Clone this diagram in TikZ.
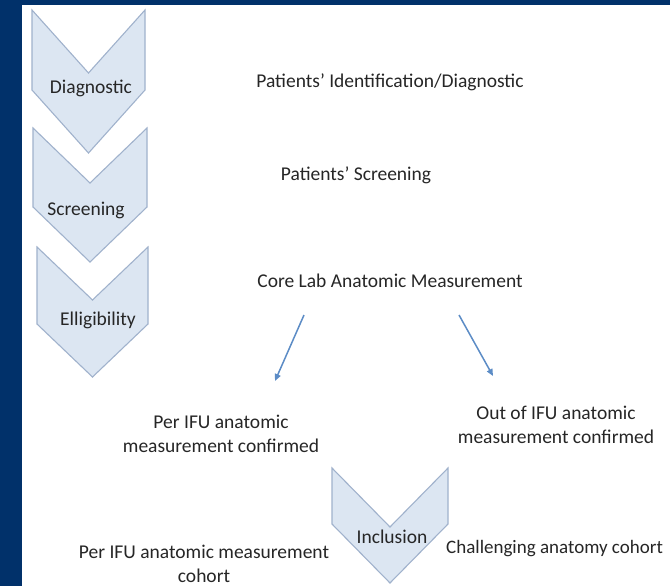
\documentclass[tikz,border=0pt]{standalone}
\usepackage{fontspec}
\setmainfont{Carlito}
\usetikzlibrary{arrows.meta}
\definecolor{bgblue}{RGB}{1,49,106}
\definecolor{chevfill}{RGB}{220,230,242}
\definecolor{chevdraw}{RGB}{160,178,204}
\definecolor{arrowblue}{RGB}{92,140,198}
\definecolor{txt}{RGB}{38,38,38}
\newcommand\mychev[5]{%
  \draw[chev] (#1,#3) -- ({(#1+#2)/2},#4) -- (#2,#3) -- (#2,{#3+#5-#4})
    -- ({(#1+#2)/2},#5) -- (#1,{#3+#5-#4}) -- cycle;}
\begin{document}
\begin{tikzpicture}[x=1pt,y=-1pt,
  chev/.style={fill=chevfill,draw=chevdraw,line width=1.1pt,line join=miter},
  lbl/.style={text=txt,font=\fontsize{19.5}{23.5}\selectfont,inner sep=0pt,anchor=base},
  flow/.style={draw=arrowblue,line width=1.5pt,-{Triangle[length=7pt,width=6pt]}}]
\useasboundingbox (0,0) rectangle (670,586);
\fill[bgblue] (0,0) rectangle (670,586);
\fill[white] (22,5) rectangle (670,586);
% chevrons
\mychev{32}{145}{10}{73}{153}
\mychev{33}{147}{128}{183}{262}
\mychev{37}{148}{247}{300}{377}
\mychev{332}{448}{468}{527}{583}
% chevron labels
\node[lbl] (diag) at (91,93) {Diagnostic};
\node[lbl] (scr) at (86,215) {Screening};
\node[lbl] (elig) at (98,325) {Elligibility};
\node[lbl] (incl) at (392,543) {Inclusion};
% step texts
\node[lbl] (t1) at (390,88) {Patients’ Identification/Diagnostic};
\node[lbl] (t2) at (356,180) {Patients’ Screening};
\node[lbl] (t3) at (390,287) {Core Lab Anatomic Measurement};
\node[lbl,align=center] (perifu) at (221,452) {Per IFU anatomic\\measurement confirmed};
\node[lbl,align=center] (outifu) at (556,443) {Out of IFU anatomic\\measurement confirmed};
\node[lbl,align=center] (percoh) at (204,582) {Per IFU anatomic measurement\\cohort};
\node[lbl,anchor=base west,font=\fontsize{19}{23.5}\selectfont] (chall) at (446,553) {Challenging anatomy cohort};
% arrows
\coordinate (a1s) at (304,315);
\coordinate (a1e) at (275,381);
\coordinate (a2s) at (459,315);
\coordinate (a2e) at (493,376);
\draw[flow] (a1s) -- (a1e);
\draw[flow] (a2s) -- (a2e);
\end{tikzpicture}
\end{document}
